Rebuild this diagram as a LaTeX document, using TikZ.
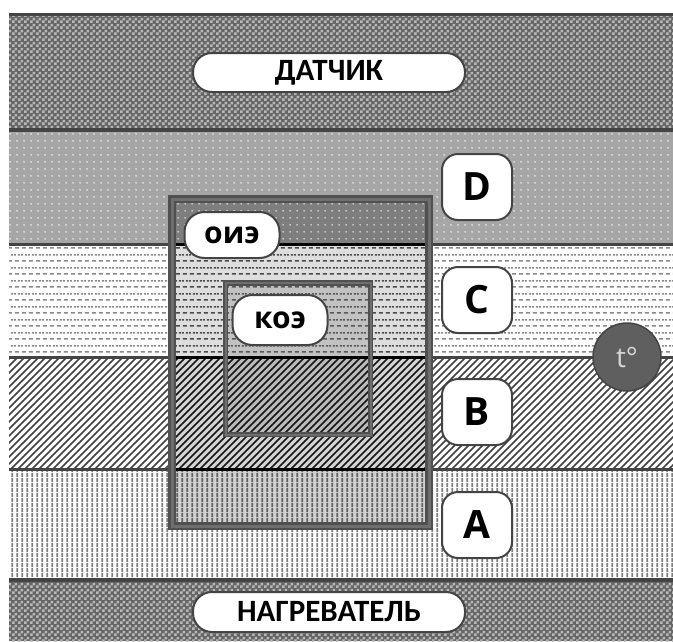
\documentclass[tikz,border=0pt]{standalone}
\usepackage{fontspec}
\setmainfont{Open Sans}
\newfontfamily\bandfont{Carlito}
\usetikzlibrary{patterns}

% fill patterns for the layers
\pgfdeclarepatternformonly{chk}{\pgfpointorigin}{\pgfpoint{6pt}{6pt}}{\pgfpoint{6pt}{6pt}}{%
  \pgfpathrectangle{\pgfpointorigin}{\pgfpoint{3pt}{3pt}}%
  \pgfpathrectangle{\pgfpoint{3pt}{3pt}}{\pgfpoint{3pt}{3pt}}%
  \pgfusepath{fill}}
\pgfdeclarepatternformonly{dotgrid}{\pgfpointorigin}{\pgfpoint{7pt}{7pt}}{\pgfpoint{7pt}{7pt}}{%
  \pgfpathcircle{\pgfpoint{3.5pt}{3.5pt}}{0.95pt}\pgfusepath{fill}}
\pgfdeclarepatternformonly{dashrows}{\pgfpointorigin}{\pgfpoint{7pt}{13pt}}{\pgfpoint{7pt}{13pt}}{%
  \pgfpathrectangle{\pgfpoint{1pt}{2.5pt}}{\pgfpoint{4.6pt}{1.6pt}}%
  \pgfpathrectangle{\pgfpoint{4.5pt}{9pt}}{\pgfpoint{2.5pt}{1.6pt}}%
  \pgfpathrectangle{\pgfpoint{0pt}{9pt}}{\pgfpoint{2.1pt}{1.6pt}}%
  \pgfusepath{fill}}
\pgfdeclarepatternformonly{diaghatch}{\pgfpoint{-1pt}{-1pt}}{\pgfpoint{8pt}{8pt}}{\pgfpoint{7pt}{7pt}}{%
  \pgfsetlinewidth{1.7pt}%
  \pgfpathmoveto{\pgfpoint{0pt}{0pt}}\pgfpathlineto{\pgfpoint{7.1pt}{7.1pt}}%
  \pgfusepath{stroke}}
\pgfdeclarepatternformonly{vstripes}{\pgfpointorigin}{\pgfpoint{5pt}{5pt}}{\pgfpoint{5pt}{5pt}}{%
  \pgfpathrectangle{\pgfpoint{1.5pt}{0pt}}{\pgfpoint{2.2pt}{5pt}}\pgfusepath{fill}}

\definecolor{edge}{HTML}{444444}
\definecolor{chkdark}{HTML}{666666}
\definecolor{chklight}{HTML}{B8B8B8}
\definecolor{dotbg}{HTML}{A6A6A6}
\definecolor{dotbgdark}{HTML}{7E7E7E}
\definecolor{dashgray}{HTML}{8A8A8A}
\definecolor{stripegray}{HTML}{7E7E7E}
\definecolor{hatchgray}{HTML}{404040}
\definecolor{framegray}{HTML}{505050}
\definecolor{framemid}{HTML}{6E6E6E}
\definecolor{sensorfill}{HTML}{5F5F5F}

\begin{document}
\begin{tikzpicture}[x=1pt,y=-1pt,
  sepline/.style={edge, line width=3pt},
  pill/.style={draw=edge, line width=2pt, fill=white, inner sep=0pt,
    text=black, font=\bandfont\bfseries\fontsize{31}{31}\selectfont},
  tag/.style={draw=edge, line width=2pt, fill=white, inner sep=0pt,
    rounded corners=20pt, minimum width=95pt, text=black,
    font=\bfseries\fontsize{30}{30}\selectfont},
  lbox/.style={draw=edge, line width=2pt, fill=white, inner sep=0pt,
    rounded corners=16pt, minimum width=70pt, minimum height=66pt, text=black,
    font=\bfseries\fontsize{39}{39}\selectfont},
  tnode/.style={circle, draw=edge, line width=1.5pt, fill=sensorfill,
    minimum size=68pt, inner sep=0pt, text={rgb,255:red,214;green,214;blue,214},
    font=\fontsize{28}{28}\selectfont}]
\useasboundingbox (0,0) rectangle (673,641);
\fill[white] (0,0) rectangle (673,641);

% sensor and heater bands
\foreach \ya/\yb in {13/130, 580/641} {
  \fill[chkdark] (9,\ya) rectangle (673,\yb);
  \fill[pattern=chk, pattern color=chklight] (9,\ya) rectangle (673,\yb);
}

% layers D, C, B, A
\fill[dotbg] (9,130) rectangle (673,244);
\fill[pattern=dotgrid, pattern color=white] (9,130) rectangle (673,244);
\fill[pattern=dashrows, pattern color=dashgray] (9,244) rectangle (673,357);
\fill[pattern=diaghatch, pattern color=hatchgray] (9,357) rectangle (673,469);
\fill[pattern=vstripes, pattern color=stripegray] (9,469) rectangle (673,580);

% layers seen through the outer frame
\begin{scope}
  \clip (172,199) rectangle (429,526);
  \fill[dotbgdark] (172,199) rectangle (429,244);
  \fill[pattern=dotgrid, pattern color=black!12] (172,199) rectangle (429,244);
  \fill[black!13] (172,244) rectangle (429,357);
  \fill[pattern=dashrows, pattern color=black!70] (172,244) rectangle (429,357);
  \fill[black!17] (172,357) rectangle (429,469);
  \fill[pattern=diaghatch, pattern color=black!92] (172,357) rectangle (429,469);
  \fill[black!18] (172,469) rectangle (429,526);
  \fill[pattern=vstripes, pattern color=black!62] (172,469) rectangle (429,526);
\end{scope}

% layers seen through the inner frame
\begin{scope}
  \clip (225.5,283) rectangle (370.5,434.5);
  \fill[black!24] (225.5,283) rectangle (370.5,357);
  \fill[pattern=dashrows, pattern color=black!65] (225.5,283) rectangle (370.5,357);
  \fill[black!27] (225.5,357) rectangle (370.5,434.5);
  \fill[pattern=diaghatch, pattern color=black!92] (225.5,357) rectangle (370.5,434.5);
\end{scope}

% band boundaries
\draw[sepline] (9,14.5) -- (673,14.5);
\draw[edge, line width=4pt] (9,130) -- (673,130);
\draw[sepline] (9,244) -- (673,244);
\draw[sepline] (9,357) -- (673,357);
\draw[sepline] (9,469) -- (673,469);
\draw[edge, line width=4pt] (9,580) -- (673,580);
\foreach \yy in {244,357,469}
  \draw[black, line width=3pt] (172,\yy) -- (429,\yy);

% outer and inner frames
\draw[framegray, line width=8pt] (172,199) rectangle (429,526);
\draw[framemid, line width=3pt] (172,199) rectangle (429,526);
\draw[framegray, line width=5.5pt] (225.5,283) rectangle (370.5,434.5);
\draw[framemid, line width=2pt] (225.5,283) rectangle (370.5,434.5);

% labels
\node[pill, rounded corners=19pt, minimum width=272pt, minimum height=39pt] (sensor) at (329,72.5) {ДАТЧИК};
\node[pill, rounded corners=19pt, minimum width=272pt, minimum height=40pt] (heater) at (329,612) {НАГРЕВАТЕЛЬ};
\node[tag, minimum height=46pt] (oie) at (232,235) {оиэ};
\node[tag, minimum height=50pt] (koe) at (280,320) {коэ};
\node[lbox] (D) at (477,187) {D};
\node[lbox] (C) at (477,300) {C};
\node[lbox] (B) at (477,412) {B};
\node[lbox] (A) at (477,525) {A};
\node[tnode] (t) at (627,357) {t°};
\end{tikzpicture}
\end{document}
